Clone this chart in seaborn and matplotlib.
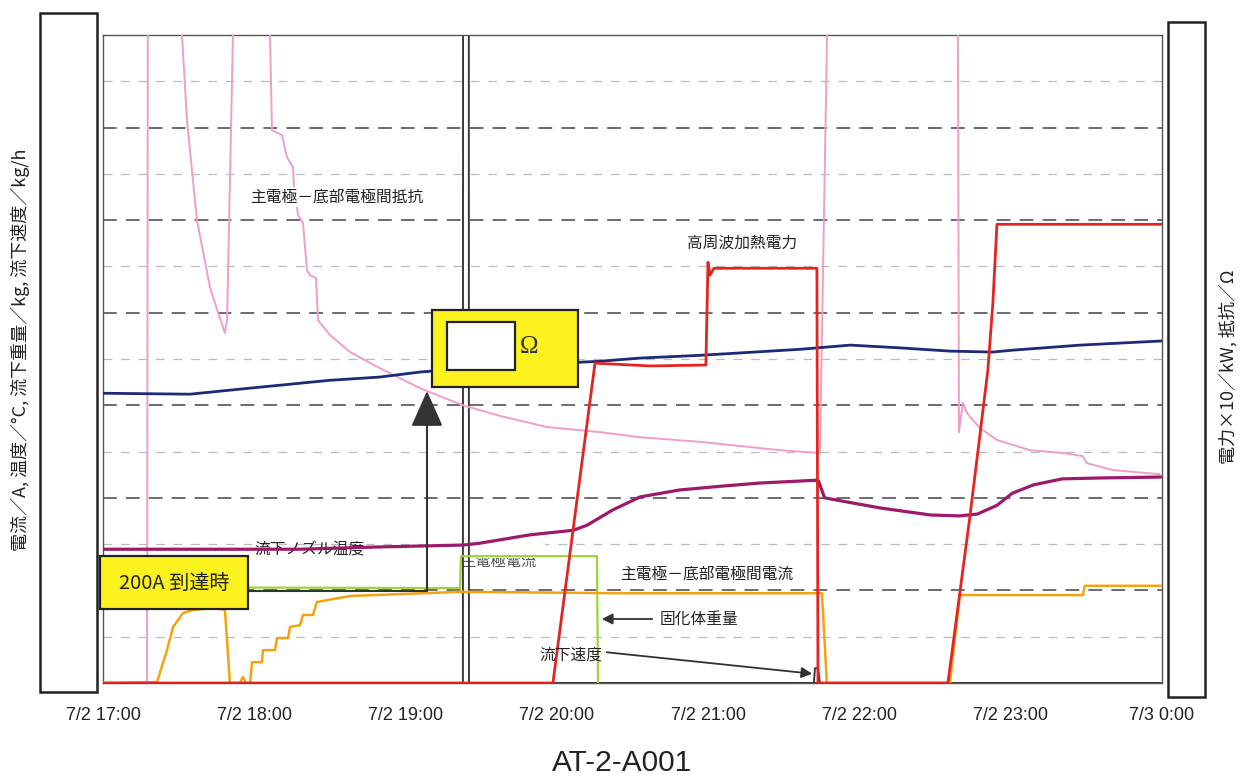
import matplotlib
matplotlib.use("Agg")
import matplotlib.pyplot as plt
import seaborn as sns
import pandas as pd
from matplotlib import font_manager
from matplotlib.patches import Rectangle, FancyArrowPatch
from matplotlib.lines import Line2D

# ---------------- data ----------------
X_TICK_POS = [0, 1, 2, 3, 4, 5, 6, 7]
X_TICK_LABELS = ["7/2 17:00", "7/2 18:00", "7/2 19:00", "7/2 20:00",
                 "7/2 21:00", "7/2 22:00", "7/2 23:00", "7/3 0:00"]
TITLE = "AT-2-A001"
LEFT_LABEL = "電流／A, 温度／°C, 流下重量／kg, 流下速度／kg/h"
RIGHT_LABEL = "電力×10／kW, 抵抗／Ω"

# time: hours after 7/2 17:00 ; values in chart grid units (0..14)
MELT_T = [0.00, 0.575, 0.97, 1.50, 1.83, 2.10, 2.62, 3.28, 3.55, 3.95, 4.61,
          4.94, 5.27, 5.60, 5.88, 6.01, 6.46, 7.00]
MELT_V = [6.26, 6.24, 6.37, 6.54, 6.61, 6.72, 6.85, 6.95, 7.02, 7.08, 7.21,
          7.30, 7.24, 7.17, 7.15, 7.19, 7.30, 7.39]

NOZZLE_T = [0.00, 1.30, 1.83, 2.38, 2.49, 2.82, 3.11, 3.20, 3.37, 3.55, 3.81,
            4.08, 4.34, 4.71, 4.73, 4.77, 4.92, 5.14, 5.47, 5.66, 5.78, 5.91,
            6.01, 6.15, 6.34, 6.59, 7.00]
NOZZLE_V = [2.89, 2.89, 2.94, 2.98, 3.02, 3.20, 3.30, 3.41, 3.74, 4.02, 4.17,
            4.25, 4.32, 4.38, 4.36, 4.00, 3.91, 3.78, 3.63, 3.61, 3.65, 3.84,
            4.10, 4.28, 4.41, 4.43, 4.45]

RESIST_T = [0.00, 0.291, 0.297, 0.516, 0.522, 0.555, 0.621, 0.707, 0.760, 0.806,
            0.820, 0.859, 0.866, 1.097, 1.104, 1.117, 1.183, 1.216, 1.256, 1.262,
            1.289, 1.322, 1.348, 1.368, 1.408, 1.421, 1.500, 1.633, 1.831, 2.095,
            2.379, 2.624, 2.935, 3.285, 3.549, 3.946, 4.475, 4.739, 4.786, 4.792,
            5.644, 5.651, 5.658, 5.684, 5.711, 5.796, 5.909, 6.127, 6.345, 6.477,
            6.504, 6.676, 6.986]
RESIST_V = [0.00, 0.00, 16.0, 16.0, 14.0, 12.16, 10.0, 8.55, 8.01, 7.56,
            7.84, 14.0, 16.0, 16.0, 14.0, 11.94, 11.84, 11.36, 11.14, 10.76,
            10.11, 9.94, 8.92, 8.81, 8.75, 7.84, 7.52, 7.15, 6.80, 6.37,
            6.00, 5.77, 5.53, 5.42, 5.31, 5.21, 5.03, 4.97, 14.0, 16.0,
            16.0, 14.0, 5.42, 6.05, 5.83, 5.51, 5.25, 5.03, 4.97, 4.90,
            4.75, 4.60, 4.51]

POWER_T = [0.00, 2.974, 3.252, 3.615, 3.985, 3.999, 4.012, 4.038, 4.342, 4.719,
           4.726, 5.585, 5.730, 5.849, 5.882, 5.909, 7.00]
POWER_V = [0.00, 0.00, 6.91, 6.85, 6.87, 9.09, 8.81, 8.96, 8.96, 8.96,
           0.00, 0.00, 3.59, 6.76, 8.21, 9.91, 9.91]

CURRENT_T = [0.00, 0.357, 0.423, 0.463, 0.529, 0.595, 0.740, 0.806, 0.839, 0.905,
             0.925, 0.945, 0.972, 0.985, 1.051, 1.057, 1.137, 1.150, 1.223, 1.236,
             1.302, 1.322, 1.388, 1.414, 1.480, 1.633, 1.963, 2.360, 3.417, 4.752,
             4.785, 5.598, 5.664, 6.477, 6.490, 7.00]
CURRENT_V = [0.00, 0.02, 0.71, 1.21, 1.51, 1.58, 1.62, 1.58, 0.00, 0.00,
             0.13, 0.00, 0.00, 0.45, 0.45, 0.71, 0.71, 0.97, 0.97, 1.21,
             1.25, 1.47, 1.47, 1.75, 1.79, 1.88, 1.92, 1.97, 1.94, 1.94,
             0.00, 0.00, 1.90, 1.90, 2.10, 2.10]

SOLID_T = [0.00, 2.360, 2.366, 3.265, 3.272]
SOLID_V = [2.07, 2.05, 2.74, 2.74, 0.00]

FLOWW_T = [0.00, 2.379, 2.380, 2.418, 2.419, 7.00]
FLOWW_V = [0.00, 0.00, 16.0, 16.0, 0.00, 0.00]

FLOWR_T = [4.60, 4.699, 4.706, 4.726, 4.739]
FLOWR_V = [0.00, 0.00, 0.32, 0.32, 0.00]

# ---------------- style ----------------
W, H = 1246, 779
sns.set_style("white")
names = {f.name for f in font_manager.fontManager.ttflist}
NARROW = "Liberation Sans Narrow" if "Liberation Sans Narrow" in names else "Liberation Sans"
JP = ["Noto Sans CJK JP", "DejaVu Sans"]
plt.rcParams["font.family"] = JP

fig = plt.figure(figsize=(W / 100, H / 100), dpi=100)
ax = fig.add_axes([103 / W, 1 - 683 / H, (1162 - 103) / W, (683 - 35) / H])


def fx(x):
    return x / W


def fy(y):
    return 1 - y / H


def draw(t, v, color, lw, z):
    df = pd.DataFrame({"t": t, "v": v})
    sns.lineplot(data=df, x="t", y="v", sort=False, estimator=None,
                 color=color, lw=lw, ax=ax, zorder=z)


# grid
for k in range(1, 14):
    if k % 2 == 0:
        ax.axhline(k, color="#444444", lw=1.1, dashes=(9, 6), zorder=1)
    else:
        ax.axhline(k, color="#bbbbbb", lw=0.9, dashes=(7, 7), zorder=1)

# partially hidden label under green line
ax.text(fx(498), fy(561), "主電極電流", transform=fig.transFigure, ha="center",
        va="center", fontsize=11, color="#555555", zorder=1.2)
ax.add_patch(Rectangle((fx(455), fy(558)), fx(90), 14 / H, transform=fig.transFigure,
                       facecolor="white", edgecolor="none", zorder=1.4))
ax.text(fx(310), fy(550), "流下ノズル温度", transform=fig.transFigure, ha="center",
        va="center", fontsize=11.3, color="#222222", zorder=1.5)

draw(FLOWW_T, FLOWW_V, "#3a3a3a", 1.4, 2)
draw(FLOWR_T, FLOWR_V, "#3a3a3a", 1.4, 2)
draw(SOLID_T, SOLID_V, "#9fd33a", 1.6, 3)
draw(CURRENT_T, CURRENT_V, "#f5a20f", 1.8, 4)
draw(RESIST_T, RESIST_V, "#f09ec6", 1.4, 5)
draw(MELT_T, MELT_V, "#1c2a78", 2.0, 6)
draw(NOZZLE_T, NOZZLE_V, "#9c1a6a", 2.3, 6)
draw(POWER_T, POWER_V, "#e52421", 2.0, 7)

ax.set_xlim(0, 7)
ax.set_ylim(0, 14)
ax.set_xlabel("")
ax.set_ylabel("")
ax.set_yticks([])
ax.set_xticks(X_TICK_POS)
ax.set_xticklabels(X_TICK_LABELS, fontfamily=NARROW, fontsize=13, color="#222222")
ax.tick_params(axis="x", length=0, pad=17)
for s in ax.spines.values():
    s.set_color("#555555")
    s.set_linewidth(1.0)

# ---------------- annotations ----------------
fig.text(fx(337), fy(197), "主電極－底部電極間抵抗", ha="center", va="center",
         fontsize=11.3, color="#222222",
         bbox=dict(facecolor="white", edgecolor="none", pad=1))
fig.text(fx(742), fy(243), "高周波加熱電力", ha="center", va="center",
         fontsize=11.3, color="#222222")
fig.text(fx(707), fy(574), "主電極－底部電極間電流", ha="center", va="center",
         fontsize=11.3, color="#222222")
fig.text(fx(660), fy(619), "固化体重量", ha="left", va="center",
         fontsize=11.3, color="#222222")
fig.text(fx(571), fy(655), "流下速度", ha="center", va="center",
         fontsize=11.3, color="#222222")

fig.add_artist(FancyArrowPatch((fx(655), fy(619)), (fx(599), fy(619)),
                               transform=fig.transFigure, arrowstyle="-|>",
                               mutation_scale=16, color="#333333", lw=1.3))
fig.add_artist(FancyArrowPatch((fx(604), fy(652)), (fx(815), fy(674)),
                               transform=fig.transFigure, arrowstyle="-|>",
                               mutation_scale=16, color="#333333", lw=1.3))

# 200A box and arrow
fig.add_artist(Line2D([fx(248), fx(427)], [fy(591), fy(591)],
                      transform=fig.transFigure, color="#333333", lw=1.5))
fig.add_artist(FancyArrowPatch((fx(427), fy(591)), (fx(427), fy(391)),
                               transform=fig.transFigure,
                               arrowstyle="-|>,head_length=0.9,head_width=0.4",
                               mutation_scale=25, color="#333333", lw=1.5,
                               shrinkA=0, shrinkB=0))
fig.add_artist(Rectangle((fx(100), fy(609)), fx(148), 53 / H, transform=fig.transFigure,
                         facecolor="#fbf21e", edgecolor="#222222", lw=1.6, zorder=5))
fig.text(fx(174), fy(583), "200A 到達時", ha="center", va="center",
         fontsize=14.5, color="#222222", zorder=6)

# resistance box
fig.add_artist(Rectangle((fx(432), fy(387)), fx(146), 77 / H, transform=fig.transFigure,
                         facecolor="#fbf21e", edgecolor="#222222", lw=1.6, zorder=5))
fig.add_artist(Rectangle((fx(447), fy(370)), fx(68), 48 / H, transform=fig.transFigure,
                         facecolor="white", edgecolor="#222222", lw=1.6, zorder=6))
fig.text(fx(529), fy(347), "Ω", ha="center", va="center", fontsize=18,
         fontfamily="Liberation Serif", color="#333333", zorder=7)

# masked tick label boxes
fig.add_artist(Rectangle((fx(40), fy(692)), fx(57), 679 / H, transform=fig.transFigure,
                         facecolor="white", edgecolor="#222222", lw=1.8, zorder=5))
fig.add_artist(Rectangle((fx(1168), fy(697)), fx(37), 675 / H, transform=fig.transFigure,
                         facecolor="white", edgecolor="#222222", lw=1.8, zorder=5))

fig.text(fx(20), fy(350), LEFT_LABEL, rotation=90, ha="center", va="center",
         fontsize=13, color="#222222")
fig.text(fx(1228), fy(367), RIGHT_LABEL, rotation=90, ha="center", va="center",
         fontsize=13, color="#222222")
fig.text(fx(622), fy(763), TITLE, ha="center", va="center", fontsize=21.5,
         fontfamily=NARROW, color="#222222")

fig.savefig("out.png", dpi=100, facecolor="white")
